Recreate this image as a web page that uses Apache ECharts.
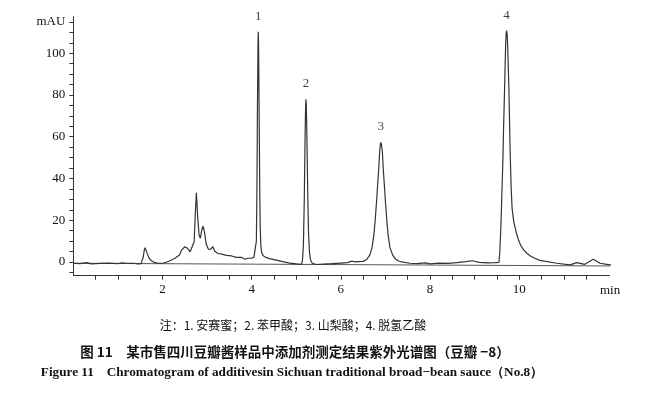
<!DOCTYPE html>
<html>
<head>
<meta charset="utf-8">
<script src="https://cdn.jsdelivr.net/npm/echarts@6/dist/echarts.min.js"></script>
<style>
  html, body { margin: 0; padding: 0; background: #fff; }
  #chart { width: 660px; height: 397px; }
</style>
</head>
<body>
<div id="chart"></div>
<script>
// retention time (min) and absorbance (mAU)
var times = [
  0, 0.15, 0.3, 0.4, 0.6, 0.8, 1.0, 1.1, 1.2, 1.35, 1.45, 1.52,
  1.54, 1.57, 1.59, 1.61, 1.63, 1.66, 1.70, 1.75, 1.82, 1.9, 2.02,
  2.17, 2.28, 2.38, 2.43, 2.50, 2.56, 2.62, 2.66, 2.71, 2.74, 2.76, 2.79, 2.82, 2.85, 2.88, 2.91, 2.94, 2.98,
  3.03, 3.08, 3.13, 3.17, 3.23, 3.33, 3.44, 3.55, 3.66, 3.78, 3.85, 3.92, 4.0, 4.05,
  4.09, 4.105, 4.118, 4.13, 4.142, 4.148, 4.155, 4.165, 4.178, 4.19, 4.205, 4.225, 4.26, 4.32,
  4.4, 4.55, 4.7, 4.85, 5.0, 5.12,
  5.14, 5.16, 5.18, 5.198, 5.21, 5.217, 5.225, 5.24, 5.258, 5.275, 5.295, 5.32, 5.36, 5.45,
  5.6, 5.8, 6.0, 6.15, 6.25, 6.3, 6.4, 6.5,
  6.58, 6.65, 6.70, 6.74, 6.77, 6.80, 6.825, 6.85, 6.87, 6.885, 6.897, 6.91, 6.93, 6.95, 6.975,
  7.0, 7.03, 7.06, 7.10, 7.16, 7.22, 7.29, 7.36, 7.55,
  7.7, 7.9, 8.0, 8.2, 8.4, 8.6, 8.8, 8.95, 9.1, 9.3, 9.45, 9.545,
  9.565, 9.59, 9.61, 9.635, 9.65, 9.67, 9.695, 9.705, 9.717, 9.73, 9.74, 9.755, 9.77, 9.785, 9.80,
  9.82, 9.84, 9.88, 9.93, 9.98, 10.03, 10.10, 10.17, 10.25, 10.35, 10.46,
  10.84, 11.14, 11.29, 11.47, 11.66, 11.81, 12.03, 12.15
];
var absorbance = [
  -0.6, -0.8, -0.3, -0.9, -0.7, -0.5, -0.8, -0.4, -0.7, -0.6, -0.9, -0.8,
  -0.5, 2.5, 5.5, 6.9, 6.2, 4, 1.8, 0.6, -0.2, -0.6, -0.6,
  0.6, 1.8, 3.4, 5.7, 7.3, 6.6, 4.9, 4.9, 9.7, 24.9, 33.2, 21.7, 12.9, 11.4, 15.3, 17.2, 14.5, 8.6,
  6.1, 6.1, 7.3, 5.3, 4.2, 3.8, 3.2, 2.9, 2.2, 2.2, 1.3, 1.8, 1.8, 2.2,
  2.5, 10, 35, 75, 104, 110.3, 104, 78, 42, 18, 8, 4.5, 3.0, 2.2,
  1.6, 0.9, 0.2, -0.5, -0.9, -1.1,
  1, 8, 30, 60, 75, 78, 75, 58, 32, 14, 5, 1, -0.6, -1.2,
  -1.0, -0.8, -0.5, -0.3, 0.4, 0.1, 0.2, 0.3,
  1.2, 3.4, 7, 12.9, 20, 28.9, 37, 44.9, 52.9, 56.3, 57.3, 56.3, 52.9, 44.9, 37,
  28.9, 20, 12.9, 7, 3.4, 1.5, 0.5, 0.1, -0.6,
  -0.8, -0.4, -0.9, -0.5, -0.7, -0.3, 0.2, 0.6, -0.2, -0.4, -0.3, -0.2,
  5, 17.7, 32, 49.7, 65, 81.6, 104, 109, 110.8, 109, 104, 93, 81.6, 65, 49.7,
  35, 25.7, 19, 14.5, 10.8, 8.1, 5.8, 4.2, 2.9, 1.8, 0.8,
  -0.6, -1.4, -0.3, -1.1, 1.3, -0.6, -1.4, -1.4
];

// straight integration baseline
var baseTimes = [0, 12.1];
var baseValues = [-0.6, -1.9];

// numbered peaks
var peakNames = ['1', '2', '3', '4'];
var peakTimes = [4.148, 5.217, 6.897, 9.717];
var peakValues = [110.3, 78, 57.3, 110.8];

var xLabelValues = [2, 4, 6, 8, 10];
var xTickValues = [0.5, 1, 1.5, 2, 2.5, 3, 3.5, 4, 4.5, 5, 5.5, 6, 6.5, 7, 7.5, 8, 8.5, 9, 9.5, 10, 10.5, 11, 11.5];
var yLabelValues = [0, 20, 40, 60, 80, 100, 115];
var yTickValues = [-5, 0, 5, 10, 15, 20, 25, 30, 35, 40, 45, 50, 55, 60, 65, 70, 75, 80, 85, 90, 95, 100, 105, 110, 115];

var trace = times.map(function (t, i) { return [t, absorbance[i]]; });
var baseline = baseTimes.map(function (t, i) { return [t, baseValues[i]]; });
var peaks = peakTimes.map(function (t, i) { return { value: [t, peakValues[i]], name: peakNames[i] }; });

var chart = echarts.init(document.getElementById('chart'));

var serif = 'Liberation Serif';

var option = {
  animation: false,
  grid: { left: 73.3, right: 50.7, top: 16.7, bottom: 121.3 },
  xAxis: {
    type: 'value',
    min: 0,
    max: 12.02,
    axisLine: { onZero: false, lineStyle: { color: '#333', width: 1 } },
    axisTick: { customValues: xTickValues, length: 4, lineStyle: { color: '#333' } },
    axisLabel: { customValues: xLabelValues, margin: 7, color: '#111', fontFamily: serif, fontSize: 13 },
    splitLine: { show: false }
  },
  yAxis: {
    type: 'value',
    min: -6.56,
    max: 117.5,
    axisLine: { show: true, lineStyle: { color: '#333', width: 1 } },
    axisTick: { show: true, customValues: yTickValues, length: 4, lineStyle: { color: '#333' } },
    axisLabel: {
      customValues: yLabelValues,
      margin: 8,
      color: '#111',
      fontFamily: serif,
      fontSize: 13,
      formatter: function (v) { return v === 115 ? 'mAU' : v; }
    },
    splitLine: { show: false }
  },
  series: [
    {
      type: 'line',
      data: baseline,
      symbol: 'none',
      clip: false,
      lineStyle: { color: '#555', width: 1 }
    },
    {
      type: 'line',
      data: trace,
      symbol: 'none',
      clip: false,
      lineStyle: { color: '#333', width: 1.2 }
    },
    {
      type: 'scatter',
      data: peaks,
      symbolSize: 0,
      label: {
        show: true,
        position: 'top',
        distance: 9,
        formatter: '{b}',
        color: '#111',
        fontFamily: serif,
        fontSize: 13
      }
    }
  ],
  graphic: [
    {
      type: 'text',
      left: 600, top: 284,
      style: { text: 'min', fill: '#111', font: '13px "Liberation Serif"' }
    },
    {
      type: 'text',
      x: 293, y: 325,
      style: {
        text: '注：1. 安赛蜜；2. 苯甲酸；3. 山梨酸；4. 脱氢乙酸',
        fill: '#111', font: '12px "Noto Sans CJK SC"',
        align: 'center', verticalAlign: 'middle'
      }
    },
    {
      type: 'text',
      x: 295, y: 351.5,
      style: {
        text: '图 11\u3000某市售四川豆瓣酱样品中添加剂测定结果紫外光谱图（豆瓣 −8）',
        fill: '#111', font: 'bold 13.5px "Noto Sans CJK SC"',
        align: 'center', verticalAlign: 'middle'
      }
    },
    {
      type: 'text',
      x: 292, y: 373,
      style: {
        text: 'Figure 11\u3000Chromatogram of additivesin Sichuan traditional broad−bean sauce（No.8）',
        fill: '#111', font: 'bold 13.2px "Liberation Serif"',
        align: 'center', verticalAlign: 'middle'
      }
    }
  ]
};

chart.setOption(option);
</script>
</body>
</html>
